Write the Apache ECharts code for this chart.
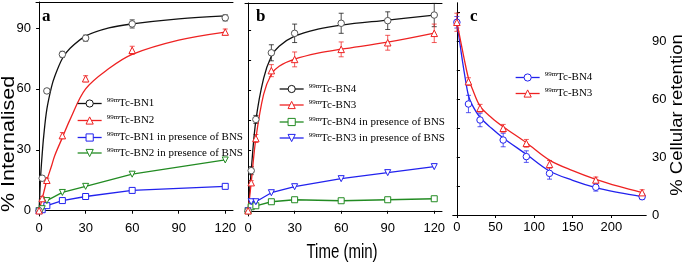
<!DOCTYPE html>
<html>
<head>
<meta charset="utf-8">
<script src="https://cdn.jsdelivr.net/npm/echarts@6/dist/echarts.min.js"></script>
<style>
  html, body, #main { width: 685px; height: 266px; margin: 0; background: #fff; }
</style>
</head>
<body>
<div id="main"></div>
<script>
// ---- panel a : internalisation, BN1 / BN2 ----
var timeA = [0, 2, 5, 15, 30, 60, 120];
var bn1 = [0, 16, 59, 77, 85, 92, 95];
var bn1Err = [0, 1, 1, 1.5, 1.5, 2, 1.5];
var bn2 = [0, 6, 15, 37, 65, 79, 88];
var bn2Err = [0, 1, 1, 1.5, 1.5, 2, 1.5];
var bn1Bns = [0, 0.5, 2.5, 5, 7, 10, 12];
var bn2Bns = [0, 1, 5, 9, 12, 18, 25];
// fitted curves
var fitTimeA = [0, 1, 2, 3, 5, 8, 10, 15, 20, 30, 45, 60, 90, 120];
var bn1Fit = [0, 17, 28, 37, 50, 61, 66, 75, 80, 86, 90, 92, 94.5, 96];
var bn2Fit = [0, 3, 6, 9, 15, 22, 27, 36, 45, 60, 70, 77, 84, 88];

// ---- panel b : internalisation, BN4 / BN3 ----
var timeB = [0, 2, 5, 15, 30, 60, 90, 120];
var bn4 = [0, 20, 45.5, 78.7, 88.4, 93.4, 94.7, 97.5];
var bn4Err = [0, 2, 2, 4, 4.6, 5, 4.4, 5.8];
var bn3 = [0, 14, 36, 69.8, 75.4, 80.4, 83.7, 88.4];
var bn3Err = [0, 1, 2, 3, 3.7, 3.7, 3.7, 4.6];
var bn4Bns = [0, 2, 2.5, 4.5, 5.5, 5, 5.5, 6];
var bn3Bns = [0, 4.5, 4.5, 9, 12, 16, 19, 22];
var fitTimeB = [0, 2, 5, 10, 15, 20, 30, 45, 60, 90, 120];
var bn4Fit = [0, 20, 45, 66, 77, 82, 87, 90.5, 92.5, 95, 97.5];
var bn3Fit = [0, 14, 36, 58, 68, 72, 75.5, 78.5, 80.5, 84, 88.5];

// ---- panel c : cellular retention ----
var timeC = [0, 15, 30, 60, 90, 120, 180, 240];
var bn4Ret = [100, 57.6, 49.3, 38.9, 30.3, 21.6, 14.4, 9.5];
var bn4RetErr = [3, 4.5, 3.5, 3.5, 3, 3, 2, 1.5];
var bn3Ret = [100, 69.2, 55.4, 45, 37.2, 26.3, 18.2, 11.6];
var bn3RetErr = [4.7, 2, 2, 2, 2, 2, 1.5, 1.5];
var fitTimeC = [0, 5, 10, 15, 20, 30, 45, 60, 90, 120, 150, 180, 210, 240];
var bn4RetFit = [100, 86, 73, 62, 57, 50.7, 45, 40, 31.5, 22.8, 18, 14.2, 11.6, 9.5];
var bn3RetFit = [100, 90, 80, 71, 65.5, 56.5, 50.5, 45.8, 37.5, 28.5, 23, 18.5, 14.8, 11.6];

// tick labels
var ticksTime = [0, 30, 60, 90, 120];
var ticksPct = [0, 30, 60, 90];
var ticksPctMinor = [0, 15, 30, 45, 60, 75, 90];
var ticksTimeC = [0, 50, 100, 150, 200];
var ticksRet = [0, 15, 30, 45, 60, 75, 90, 105];

var legendText = {
  a1: 'Tc-BN1', a2: 'Tc-BN2',
  a3: 'Tc-BN1 in presence of BNS', a4: 'Tc-BN2 in presence of BNS',
  b1: 'Tc-BN4', b2: 'Tc-BN3',
  b3: 'Tc-BN4 in presence of BNS', b4: 'Tc-BN3 in presence of BNS',
  c1: 'Tc-BN4', c2: 'Tc-BN3'
};

var BLACK = '#111', RED = '#ee2222', BLUE = '#2222ee', GREEN = '#228b22';
var SANS = 'Liberation Sans, Arial, sans-serif';
var SERIF = 'Liberation Serif, Times New Roman, serif';

var chart = echarts.init(document.getElementById('main'));

function pairs(xs, ys) {
  return xs.map(function (x, i) { return [x, ys[i]]; });
}

function fitLine(name, g, xs, ys, color, symbol, rot) {
  return {
    name: name, type: 'line', xAxisIndex: g, yAxisIndex: g,
    data: pairs(xs, ys), smooth: 0.35, showSymbol: false,
    symbol: symbol, symbolRotate: rot || 0,
    lineStyle: { color: color, width: 1.3 },
    itemStyle: { color: '#fff', borderColor: color, borderWidth: 1 },
    z: 3, silent: true
  };
}

function markers(g, xs, ys, color, symbol, rot) {
  return {
    type: 'scatter', xAxisIndex: g, yAxisIndex: g, data: pairs(xs, ys),
    symbol: symbol, symbolSize: 6.5, symbolRotate: rot || 0,
    itemStyle: { color: '#fff', borderColor: color, borderWidth: 1, opacity: 1 },
    z: 4, silent: true
  };
}

function polyLine(name, g, xs, ys, color, symbol, rot) {
  return {
    name: name, type: 'line', xAxisIndex: g, yAxisIndex: g,
    data: pairs(xs, ys), symbol: symbol, symbolSize: 6, symbolRotate: rot || 0,
    lineStyle: { color: color, width: 1.3 },
    itemStyle: { color: '#fff', borderColor: color, borderWidth: 1 },
    z: 3, silent: true
  };
}

function errBars(g, xs, ys, errs, color) {
  var d = [];
  xs.forEach(function (x, i) {
    if (errs[i] > 0) d.push([x, ys[i] - errs[i], ys[i] + errs[i]]);
  });
  return {
    type: 'custom', xAxisIndex: g, yAxisIndex: g, data: d, z: 2, silent: true,
    renderItem: function (params, api) {
      var lo = api.coord([api.value(0), api.value(1)]);
      var hi = api.coord([api.value(0), api.value(2)]);
      var w = 2.5, st = { stroke: color, lineWidth: 1, opacity: 0.75 };
      return {
        type: 'group', children: [
          { type: 'line', shape: { x1: lo[0], y1: lo[1], x2: hi[0], y2: hi[1] }, style: st },
          { type: 'line', shape: { x1: lo[0] - w, y1: lo[1], x2: lo[0] + w, y2: lo[1] }, style: st },
          { type: 'line', shape: { x1: hi[0] - w, y1: hi[1], x2: hi[0] + w, y2: hi[1] }, style: st }
        ]
      };
    }
  };
}

function legendItem(name, left, yc) {
  return {
    left: left, top: yc - 7, data: [name], itemWidth: 24, itemHeight: 9,
    selectedMode: false, padding: 0,
    itemStyle: { borderWidth: 1 },
    lineStyle: { width: 1.3 },
    formatter: function (n) { return '{s|99m}{t|' + legendText[n] + '}'; },
    textStyle: {
      rich: {
        s: { fontSize: 7, fontFamily: SERIF, color: '#000', padding: [0, 0, 6, 0] },
        t: { fontSize: 11, fontFamily: SERIF, color: '#000' }
      }
    }
  };
}

var axLine = { show: true, lineStyle: { color: '#000', width: 1 } };
var lab = { fontFamily: SANS, fontSize: 13, color: '#000' };

function xBottom(g, min, max, labels) {
  return {
    type: 'value', gridIndex: g, min: min, max: max, position: 'bottom',
    axisLine: axLine, splitLine: { show: false },
    axisTick: { show: true, length: 3, customValues: labels, lineStyle: { color: '#000' } },
    axisLabel: Object.assign({ show: true, margin: 6, customValues: labels }, lab)
  };
}
function xTop(g, min, max) {
  return {
    type: 'value', gridIndex: g, min: min, max: max, position: 'top',
    axisLine: axLine, splitLine: { show: false },
    axisTick: { show: false }, axisLabel: { show: false }
  };
}

var option = {
  backgroundColor: '#fff',
  animation: false,
  grid: [
    { left: 36, top: 2, width: 197, height: 214 },
    { left: 245, top: 3, width: 197, height: 213 },
    { left: 453, top: 3, width: 193, height: 212 }
  ],
  xAxis: [
    xBottom(0, -2, 125, ticksTime),
    xBottom(1, -2, 125, ticksTime),
    xBottom(2, -5, 245, ticksTimeC),
    xTop(0, -2, 125),
    xTop(1, -2, 125),
    xTop(2, -5, 245)
  ],
  yAxis: [
    {
      type: 'value', gridIndex: 0, min: -2.6, max: 102.8, position: 'left',
      axisLine: axLine, splitLine: { show: false },
      axisTick: { show: true, length: 3, customValues: ticksPct, lineStyle: { color: '#000' } },
      axisLabel: Object.assign({ margin: 5, customValues: ticksPct }, lab)
    },
    {
      type: 'value', gridIndex: 1, min: -2.6, max: 103.5, position: 'left',
      axisLine: axLine, splitLine: { show: false },
      axisTick: { show: true, inside: true, length: 3, customValues: ticksPctMinor, lineStyle: { color: '#000' } },
      axisLabel: { show: false }
    },
    {
      type: 'value', gridIndex: 2, min: 0, max: 110, position: 'right',
      axisLine: axLine, splitLine: { show: false },
      axisTick: { show: true, length: 3, customValues: ticksRet, lineStyle: { color: '#000' } },
      axisLabel: Object.assign({ margin: 6, customValues: ticksPct }, lab)
    },
    {
      type: 'value', gridIndex: 2, min: 0, max: 110, position: 'left',
      axisLine: axLine, splitLine: { show: false },
      axisTick: { show: true, inside: true, length: 3, customValues: ticksRet, lineStyle: { color: '#000' } },
      axisLabel: { show: false }
    }
  ],
  legend: [
    legendItem('a1', 77, 104), legendItem('a2', 77, 121),
    legendItem('a3', 77, 138), legendItem('a4', 77, 153.5),
    legendItem('b1', 279, 89.5), legendItem('b2', 279, 105.5),
    legendItem('b3', 279, 122.5), legendItem('b4', 279, 138.5),
    legendItem('c1', 515, 78), legendItem('c2', 515, 94)
  ],
  series: [
    // a
    errBars(0, timeA, bn1, bn1Err, BLACK),
    errBars(0, timeA, bn2, bn2Err, RED),
    fitLine('a1', 0, fitTimeA, bn1Fit, BLACK, 'circle'),
    markers(0, timeA, bn1, '#555', 'circle'),
    fitLine('a2', 0, fitTimeA, bn2Fit, RED, 'triangle'),
    markers(0, timeA, bn2, RED, 'triangle'),
    polyLine('a3', 0, timeA, bn1Bns, BLUE, 'rect'),
    polyLine('a4', 0, timeA, bn2Bns, GREEN, 'triangle', 180),
    // b
    errBars(1, timeB, bn4, bn4Err, BLACK),
    errBars(1, timeB, bn3, bn3Err, RED),
    fitLine('b1', 1, fitTimeB, bn4Fit, BLACK, 'circle'),
    markers(1, timeB, bn4, '#555', 'circle'),
    fitLine('b2', 1, fitTimeB, bn3Fit, RED, 'triangle'),
    markers(1, timeB, bn3, RED, 'triangle'),
    polyLine('b3', 1, timeB, bn4Bns, GREEN, 'rect'),
    polyLine('b4', 1, timeB, bn3Bns, BLUE, 'triangle', 180),
    // c
    errBars(2, timeC, bn4Ret, bn4RetErr, BLUE),
    errBars(2, timeC, bn3Ret, bn3RetErr, RED),
    fitLine('c1', 2, fitTimeC, bn4RetFit, BLUE, 'circle'),
    markers(2, timeC, bn4Ret, BLUE, 'circle'),
    fitLine('c2', 2, fitTimeC, bn3RetFit, RED, 'triangle'),
    markers(2, timeC, bn3Ret, RED, 'triangle')
  ],
  graphic: [
    { type: 'text', x: 8.5, y: 144, rotation: Math.PI / 2, scaleY: 0.85,
      style: { text: '% Internalised', font: '21.5px ' + SANS, fill: '#000', align: 'center', verticalAlign: 'middle' } },
    { type: 'text', x: 677, y: 115, rotation: Math.PI / 2, scaleY: 0.9,
      style: { text: '% Cellular retention', font: '18.5px ' + SANS, fill: '#000', align: 'center', verticalAlign: 'middle' } },
    { type: 'text', x: 342, y: 252, scaleX: 0.75,
      style: { text: 'Time (min)', font: '20px ' + SANS, fill: '#000', align: 'center', verticalAlign: 'middle' } },
    { type: 'text', x: 42, y: 17,
      style: { text: 'a', font: 'bold 17px ' + SERIF, fill: '#000', verticalAlign: 'middle' } },
    { type: 'text', x: 256, y: 17,
      style: { text: 'b', font: 'bold 17px ' + SERIF, fill: '#000', verticalAlign: 'middle' } },
    { type: 'text', x: 470, y: 17,
      style: { text: 'c', font: 'bold 17px ' + SERIF, fill: '#000', verticalAlign: 'middle' } }
  ]
};

chart.setOption(option);
window.onresize = chart.resize;
</script>
</body>
</html>
